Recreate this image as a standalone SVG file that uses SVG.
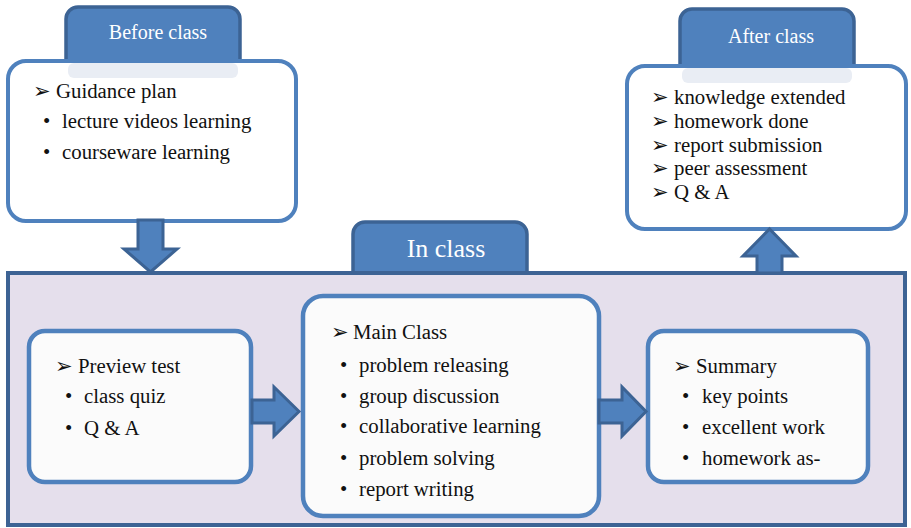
<svg xmlns="http://www.w3.org/2000/svg" width="911" height="528" viewBox="0 0 911 528">
<style>
.tab{fill:#4f81bd;stroke:#3c6394;stroke-width:3.5}
.box{fill:#ffffff;stroke:#4f81bd;stroke-width:4}
.ibox{fill:#fbfbfb;stroke:#4f81bd;stroke-width:4.5}
.band{fill:#e9edf4}
.big{fill:#e5dfec;stroke:#3d6394;stroke-width:4}
.arr{fill:#4f81bd;stroke:#3c6394;stroke-width:3;stroke-linejoin:miter}
.t{font-family:"Liberation Serif","Times New Roman",serif;font-size:20.8px;fill:#111}
.h{font-family:"Liberation Serif","Times New Roman",serif;font-size:20px;fill:#ffffff;text-anchor:middle}
.mk{font-family:"DejaVu Sans",sans-serif;font-size:21px;fill:#111}
</style>
<g id="before">
<rect class="tab" x="66" y="7" width="174" height="76" rx="12"/>
<text class="h" x="158" y="39">Before class</text>
<rect class="box" x="8" y="61" width="288" height="160" rx="18"/>
<rect class="band" x="68" y="63" width="170" height="15" rx="6"/>
<text class="mk" x="33" y="98">➢</text><text class="t" x="56" y="98">Guidance plan</text>
<text class="t" x="43" y="128">•</text><text class="t" x="62" y="128">lecture videos learning</text>
<text class="t" x="43" y="159">•</text><text class="t" x="62" y="159">courseware learning</text>
</g>
<g id="after">
<rect class="tab" x="680" y="9" width="174" height="76" rx="12"/>
<text class="h" x="771" y="43">After class</text>
<rect class="box" x="627" y="66" width="279" height="163" rx="18"/>
<rect class="band" x="682" y="68" width="170" height="15" rx="6"/>
<text class="mk" x="651" y="104">➢</text><text class="t" x="674" y="104">knowledge extended</text>
<text class="mk" x="651" y="128">➢</text><text class="t" x="674" y="128">homework done</text>
<text class="mk" x="651" y="152">➢</text><text class="t" x="674" y="152">report submission</text>
<text class="mk" x="651" y="175">➢</text><text class="t" x="674" y="175">peer assessment</text>
<text class="mk" x="651" y="199">➢</text><text class="t" x="674" y="199">Q &amp; A</text>
</g>
<g id="inclass">
<rect class="tab" x="353" y="222" width="174" height="70" rx="12"/>
<rect class="big" x="8" y="273" width="897" height="252"/>
<text class="h" x="446" y="257" style="font-size:26px">In class</text>
</g>
<g id="preview">
<rect class="ibox" x="29" y="331" width="222" height="151" rx="16"/>
<text class="mk" x="55" y="373">➢</text><text class="t" x="78" y="373">Preview test</text>
<text class="t" x="65" y="403">•</text><text class="t" x="84" y="403">class quiz</text>
<text class="t" x="65" y="435">•</text><text class="t" x="84" y="435">Q &amp; A</text>
</g>
<g id="main">
<rect class="ibox" x="303" y="296" width="296" height="220" rx="20"/>
<text class="mk" x="331" y="339">➢</text><text class="t" x="353" y="339">Main Class</text>
<text class="t" x="340" y="372">•</text><text class="t" x="359" y="372">problem releasing</text>
<text class="t" x="340" y="403">•</text><text class="t" x="359" y="403">group discussion</text>
<text class="t" x="340" y="433">•</text><text class="t" x="359" y="433">collaborative learning</text>
<text class="t" x="340" y="465">•</text><text class="t" x="359" y="465">problem solving</text>
<text class="t" x="340" y="496">•</text><text class="t" x="359" y="496">report writing</text>
</g>
<g id="summary">
<rect class="ibox" x="648" y="331" width="220" height="151" rx="16"/>
<text class="mk" x="673" y="373">➢</text><text class="t" x="696" y="373">Summary</text>
<text class="t" x="682" y="403">•</text><text class="t" x="702" y="403">key points</text>
<text class="t" x="682" y="434">•</text><text class="t" x="702" y="434">excellent work</text>
<text class="t" x="682" y="465">•</text><text class="t" x="702" y="465">homework as-</text>
</g>
<g id="connectors">
<path class="arr" d="M138,220 L163,220 L163,249 L177,249 L150.5,272 L124,249 L138,249 Z"/>
<path class="arr" d="M757,273 L782,273 L782,256 L796,256 L769.5,229 L743,256 L757,256 Z"/>
<path class="arr" d="M252,400 L274,400 L274,387 L299,411.5 L274,436 L274,423 L252,423 Z"/>
<path class="arr" d="M599,400 L622,400 L622,387 L646,411.5 L622,436 L622,423 L599,423 Z"/>
</g>
</svg>
